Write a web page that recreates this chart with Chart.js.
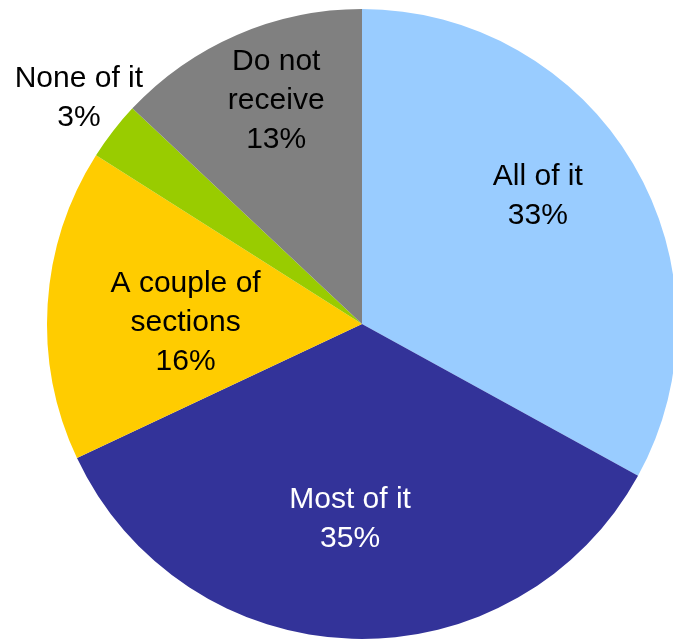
<!DOCTYPE html>
<html>
<head>
<meta charset="utf-8">
<script src="https://cdn.jsdelivr.net/npm/chart.js@4/dist/chart.umd.min.js"></script>
<style>
    body { margin: 0; background: #fff; overflow: hidden; }
    #wrap { width: 673px; height: 640px; overflow: hidden; }
</style>
</head>
<body>
<div id="wrap"><canvas id="pieChart" width="700" height="650"></canvas></div>
<script>
const categories = ["All of it", "Most of it", "A couple of sections", "None of it", "Do not receive"];
const shares = [33, 35, 16, 3, 13];
const labelLines = [["All of it"], ["Most of it"], ["A couple of", "sections"], ["None of it"], ["Do not", "receive"]];
const sliceColors = ["#99CCFF", "#333399", "#FFCC00", "#99CC00", "#808080"];
const textColors = ["#000", "#fff", "#000", "#000", "#000"];
// label placement: share of radius out from centre, and a small turn (degrees) off the slice middle
const labelRadius = [0.69, 0.62, 0.56, 1.15, 0.76];
const labelTurn = [-5.4, 1.7, -3.3, 0.8, 2.4];

const sliceLabels = {
    id: "sliceLabels",
    afterDraw(chart) {
        const ctx = chart.ctx;
        const arcs = chart.getDatasetMeta(0).data;
        ctx.save();
        ctx.font = "30px 'Liberation Sans', Arial, sans-serif";
        ctx.textAlign = "center";
        ctx.textBaseline = "middle";
        arcs.forEach((arc, i) => {
            const mid = (arc.startAngle + arc.endAngle) / 2 + labelTurn[i] * Math.PI / 180;
            const r = arc.outerRadius * labelRadius[i];
            const cx = arc.x + Math.cos(mid) * r;
            const cy = arc.y + Math.sin(mid) * r;
            const lines = labelLines[i].concat([shares[i] + "%"]);
            const lh = 39;
            const top = cy - (lines.length - 1) * lh / 2;
            ctx.fillStyle = textColors[i];
            lines.forEach((t, j) => ctx.fillText(t, cx, top + j * lh));
        });
        ctx.restore();
    }
};

new Chart(document.getElementById("pieChart"), {
    type: "pie",
    data: {
        labels: categories,
        datasets: [{
            data: shares,
            backgroundColor: sliceColors,
            borderWidth: 0
        }]
    },
    options: {
        responsive: false,
        animation: false,
        layout: { padding: { left: 47, top: 9, right: 23, bottom: 11 } },
        plugins: {
            legend: { display: false },
            tooltip: { enabled: false }
        }
    },
    plugins: [sliceLabels]
});
</script>
</body>
</html>
